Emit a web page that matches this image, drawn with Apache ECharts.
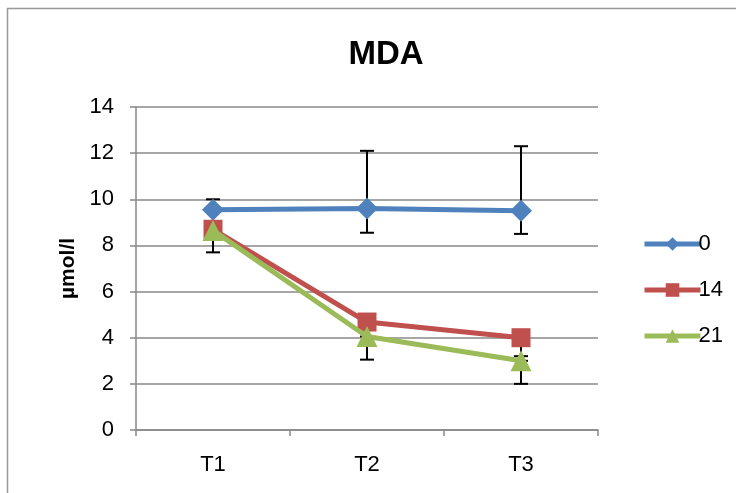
<!DOCTYPE html>
<html>
<head>
<meta charset="utf-8">
<script src="https://cdn.jsdelivr.net/npm/echarts@6/dist/echarts.min.js"></script>
<style>html,body{margin:0;padding:0;background:#fff}#c{width:736px;height:493px}</style>
</head>
<body>
<div id="c"></div>
<script>
var categories = ['T1', 'T2', 'T3'];
var seriesNames = ['0', '14', '21'];
var values0 = [9.55, 9.6, 9.5];
var values14 = [8.7, 4.68, 4.0];
var values21 = [8.65, 4.05, 3.0];
// error bar ends [category index, low, high]
var errors0 = [[0, 9.55, 10.0], [1, 8.55, 12.1], [2, 8.5, 12.3]];
var errors14 = [[2, 3.2, 4.0]];
var errors21 = [[0, 7.7, 8.65], [1, 3.05, 4.05], [2, 2.0, 3.0]];
var yTicks = {min: 0, max: 14, interval: 2};

var FONT = 'Liberation Sans';
var colors = ['#4F81BD', '#C0504D', '#9BBB59'];

function errRender(params, api) {
  var x = api.value(0), lo = api.value(1), hi = api.value(2);
  var pLo = api.coord([x, lo]), pHi = api.coord([x, hi]);
  var w = 7;
  var st = {stroke: '#000', lineWidth: 2};
  return {type: 'group', children: [
    {type: 'line', shape: {x1: pLo[0], y1: pLo[1], x2: pHi[0], y2: pHi[1]}, style: st},
    {type: 'line', shape: {x1: pLo[0]-w, y1: pLo[1], x2: pLo[0]+w, y2: pLo[1]}, style: st},
    {type: 'line', shape: {x1: pHi[0]-w, y1: pHi[1], x2: pHi[0]+w, y2: pHi[1]}, style: st}
  ]};
}

var chart = echarts.init(document.getElementById('c'));
chart.setOption({
  animation: false,
  textStyle: {fontFamily: FONT},
  title: {text: 'MDA', left: 381, textAlign: 'center', top: 33,
    textStyle: {fontFamily: FONT, fontSize: 33, fontWeight: 'bold', color: '#000'}},
  graphic: [{type: 'polyline', shape: {points: [[7.5, 493], [7.5, 8.5], [736, 8.5]]},
    style: {stroke: '#999', lineWidth: 1.5, fill: null}, silent: true}],
  legend: {data: seriesNames, orient: 'vertical', left: 637, top: 228, itemGap: 24,
    itemWidth: 56, itemHeight: 17,
    lineStyle: {width: 5},
    textStyle: {fontFamily: FONT, fontSize: 22, color: '#000', padding: [0, 0, 0, -7]}},
  grid: {left: 136, top: 107, right: 138, bottom: 63, containLabel: false},
  xAxis: {type: 'category', data: categories, boundaryGap: true,
    axisLine: {lineStyle: {color: '#888', width: 1.5}},
    axisTick: {show: true, length: 6, lineStyle: {color: '#888', width: 1.5}},
    axisLabel: {fontFamily: FONT, fontSize: 22, color: '#000', margin: 24}},
  yAxis: {type: 'value', min: yTicks.min, max: yTicks.max, interval: yTicks.interval,
    name: 'µmol/l', nameLocation: 'middle', nameGap: 14, nameRotate: 90,
    nameTextStyle: {fontFamily: FONT, fontSize: 21, fontWeight: 'bold', color: '#000'},
    axisLine: {show: true, lineStyle: {color: '#888', width: 1.5}},
    axisTick: {show: true, length: 6, lineStyle: {color: '#888', width: 1.5}},
    splitLine: {lineStyle: {color: '#888', width: 1.5}},
    axisLabel: {fontFamily: FONT, fontSize: 22, color: '#000', margin: 22}},
  series: [
    {type: 'custom', renderItem: errRender, data: errors0, z: 1, silent: true, encode: {x: 0, y: [1, 2]}},
    {type: 'custom', renderItem: errRender, data: errors14, z: 1, silent: true, encode: {x: 0, y: [1, 2]}},
    {type: 'custom', renderItem: errRender, data: errors21, z: 1, silent: true, encode: {x: 0, y: [1, 2]}},
    {name: seriesNames[0], type: 'line', data: values0, color: colors[0], symbol: 'diamond', symbolSize: 22,
      lineStyle: {width: 5}, z: 3},
    {name: seriesNames[1], type: 'line', data: values14, color: colors[1], symbol: 'rect', symbolSize: 19,
      lineStyle: {width: 5}, z: 4},
    {name: seriesNames[2], type: 'line', data: values21, color: colors[2], symbol: 'triangle', symbolSize: 21,
      lineStyle: {width: 5}, z: 5}
  ]
});
</script>
</body>
</html>
